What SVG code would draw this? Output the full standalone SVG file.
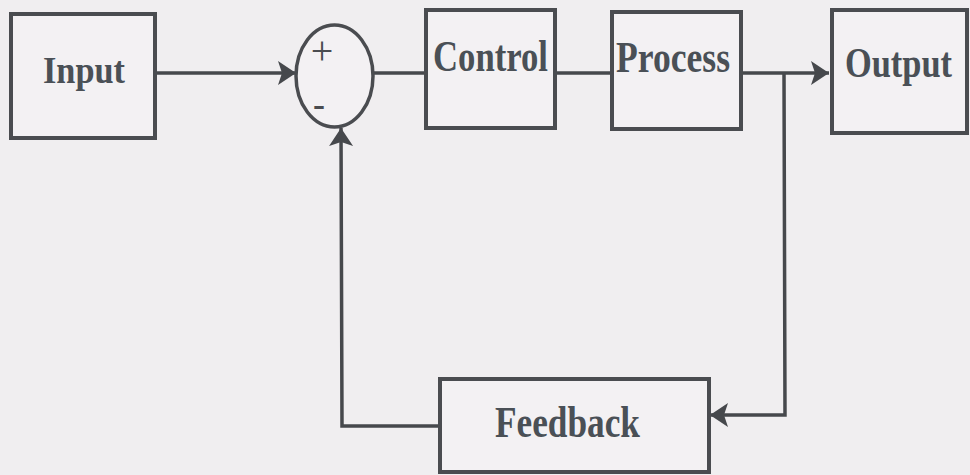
<svg xmlns="http://www.w3.org/2000/svg" width="970" height="475" viewBox="0 0 970 475">
  <defs>
    <style>
      .box { fill: #f3f1f3; stroke: #4a4c50; stroke-width: 4; }
      .lbl { font-family: "Liberation Serif", "Times New Roman", serif; font-weight: bold; fill: #4a5056; }
      .wire { fill: none; stroke: #46484c; stroke-width: 3.5; }
      .sign { font-family: "Liberation Serif", "Times New Roman", serif; fill: #4a4c50; text-anchor: middle; }
    </style>
    <marker id="arr" markerUnits="userSpaceOnUse" markerWidth="24" markerHeight="28" refX="18" refY="12" orient="auto">
      <path d="M0,0 L18,12 L0,24 L4,12 Z" fill="#46484c"/>
    </marker>
  </defs>
  <rect width="970" height="475" fill="#f0eef0"/>

  <g id="connectors">
    <line class="wire" x1="156" y1="73" x2="296" y2="73" marker-end="url(#arr)"/>
    <line class="wire" x1="373" y1="73" x2="426" y2="73"/>
    <line class="wire" x1="555" y1="73" x2="612" y2="73"/>
    <line class="wire" x1="741" y1="73" x2="829" y2="73" marker-end="url(#arr)"/>
    <polyline class="wire" points="784,73 785,415 710,415" marker-end="url(#arr)"/>
    <polyline class="wire" points="440,426 342,426 341,128" marker-end="url(#arr)"/>
  </g>

  <g id="input">
    <rect class="box" x="11" y="14" width="144" height="124"/>
    <text class="lbl" x="43" y="83" font-size="38" textLength="82" lengthAdjust="spacingAndGlyphs">Input</text>
  </g>

  <g id="sum">
    <ellipse cx="334.5" cy="76" rx="38.5" ry="51" fill="#f3f1f3" stroke="#4a4c50" stroke-width="3.5"/>
    <text class="sign" x="322" y="64" font-size="40">+</text>
    <text class="sign" x="319" y="116" font-size="36" font-weight="bold">-</text>
  </g>

  <g id="control">
    <rect class="box" x="426" y="10" width="129" height="118"/>
    <text class="lbl" x="433" y="71" font-size="44" textLength="115" lengthAdjust="spacingAndGlyphs">Control</text>
  </g>

  <g id="process">
    <rect class="box" x="612" y="12" width="129" height="117"/>
    <text class="lbl" x="616" y="72" font-size="44" textLength="114" lengthAdjust="spacingAndGlyphs">Process</text>
  </g>

  <g id="output">
    <rect class="box" x="832" y="10" width="135" height="123"/>
    <text class="lbl" transform="translate(845,77) scale(0.8,1)" x="0" y="0" font-size="43">Output</text>
  </g>

  <g id="feedback">
    <rect class="box" x="440" y="379" width="269" height="93"/>
    <text class="lbl" x="495" y="437" font-size="44" textLength="145" lengthAdjust="spacingAndGlyphs">Feedback</text>
  </g>
</svg>
